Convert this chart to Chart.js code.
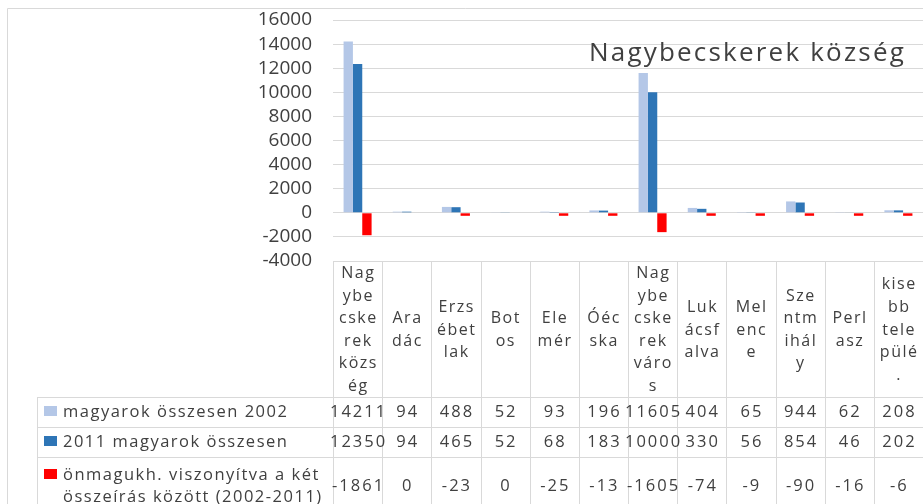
<!DOCTYPE html>
<html>
<head>
<meta charset="utf-8">
<script src="https://cdn.jsdelivr.net/npm/chart.js@4/dist/chart.umd.min.js"></script>
<style>
html,body{margin:0;padding:0;background:#fff;}
canvas{display:block;}
</style>
</head>
<body>
<canvas id="c" width="923" height="504"></canvas>
<script>
// ---- data ----
const categories = [
  ["Nag","ybe","cske","rek","közs","ég"],
  ["Ara","dác"],
  ["Erzs","ébet","lak"],
  ["Bot","os"],
  ["Ele","mér"],
  ["Óéc","ska"],
  ["Nag","ybe","cske","rek","váro","s"],
  ["Luk","ácsf","alva"],
  ["Mel","enc","e"],
  ["Sze","ntm","ihál","y"],
  ["Perl","asz"],
  ["kise","bb","tele","pülé","."]
];
const series2002 = [14211, 94, 488, 52, 93, 196, 11605, 404, 65, 944, 62, 208];
const series2011 = [12350, 94, 465, 52, 68, 183, 10000, 330, 56, 854, 46, 202];
const seriesDiff = [-1861, 0, -23, 0, -25, -13, -1605, -74, -9, -90, -16, -6];
const seriesNames = [
  ["magyarok összesen 2002"],
  ["2011 magyarok összesen"],
  ["önmagukh. viszonyítva a két", "összeírás között (2002-2011)"]
];
const chartTitle = "Nagybecskerek község";
const yMin = -4000, yMax = 16000, yStep = 2000;

const colors = ["#B4C7E7", "#2E75B6", "#FF0000"];
const textColor = "#404040";
const lineColor = "#D9D9D9";
const FONT = "'Open Sans', sans-serif";

const tablePlugin = {
  id: 'dataTable',
  afterDraw(chart) {
    const ctx = chart.ctx;
    const a = chart.chartArea;
    const n = categories.length;
    const cw = (a.right - a.left) / n;
    const headTop = a.bottom, headBot = 397;
    const rowTops = [397, 427, 457];
    const tableBot = 504;
    const legendLeft = 37;
    ctx.save();
    // outer chart border
    ctx.strokeStyle = lineColor;
    ctx.lineWidth = 1;
    ctx.beginPath();
    ctx.moveTo(7.5, 504); ctx.lineTo(7.5, 8.5); ctx.lineTo(923, 8.5);
    ctx.stroke();
    // table lines
    ctx.beginPath();
    ctx.moveTo(a.left, Math.round(headTop) + 0.5); ctx.lineTo(a.right, Math.round(headTop) + 0.5);
    for (const y of rowTops) { ctx.moveTo(legendLeft, y + 0.5); ctx.lineTo(a.right, y + 0.5); }
    for (let i = 0; i <= n; i++) {
      const x = Math.round(a.left + i * cw) + 0.5;
      ctx.moveTo(x, headTop); ctx.lineTo(x, tableBot);
    }
    ctx.moveTo(legendLeft + 0.5, rowTops[0]); ctx.lineTo(legendLeft + 0.5, tableBot);
    ctx.stroke();

    // header labels
    ctx.fillStyle = textColor;
    ctx.textAlign = 'center';
    ctx.textBaseline = 'middle';
    ctx.font = "16px " + FONT;
    ctx.letterSpacing = "1.5px";
    const lh = 22.6;
    const hc = (headTop + headBot) / 2 + 1;
    categories.forEach((lines, i) => {
      const cx = a.left + (i + 0.5) * cw + 0.75;
      const y0 = hc - (lines.length - 1) * lh / 2;
      lines.forEach((t, j) => ctx.fillText(t, cx, y0 + j * lh));
    });

    // data rows
    const data = [series2002, series2011, seriesDiff];
    const rowCenters = [412, 442, 486];
    ctx.font = "16.5px " + FONT;
    ctx.letterSpacing = "2px";
    data.forEach((arr, r) => {
      arr.forEach((v, i) => {
        const cx = a.left + (i + 0.5) * cw + 1;
        ctx.fillText(String(v), cx, rowCenters[r]);
      });
    });

    // legend cells
    ctx.textAlign = 'left';
    ctx.font = "16.5px " + FONT;
    ctx.letterSpacing = "1.5px";
    const legendLines = [[412], [442], [475, 497]];
    seriesNames.forEach((lines, r) => {
      ctx.fillStyle = colors[r];
      ctx.fillRect(44, legendLines[r][0] - 6, 13, 10);
      ctx.fillStyle = textColor;
      lines.forEach((t, j) => ctx.fillText(t, 63, legendLines[r][j]));
    });

    // title
    ctx.font = "26px " + FONT;
    ctx.letterSpacing = "2.2px";
    ctx.textAlign = 'left';
    ctx.textBaseline = 'alphabetic';
    ctx.fillStyle = textColor;
    ctx.fillText(chartTitle, 589, 61);
    ctx.restore();
  }
};

new Chart(document.getElementById('c'), {
  type: 'bar',
  data: {
    labels: categories,
    datasets: [
      { label: seriesNames[0].join(' '), data: series2002, backgroundColor: colors[0] },
      { label: seriesNames[1].join(' '), data: series2011, backgroundColor: colors[1] },
      { label: seriesNames[2].join(' '), data: seriesDiff.map(v => v === 0 ? null : v), backgroundColor: colors[2], minBarLength: 3 }
    ]
  },
  options: {
    responsive: false,
    devicePixelRatio: 1,
    animation: false,
    layout: { padding: { left: 0, right: 0, top: 20, bottom: 504 - 261 } },
    datasets: { bar: { categoryPercentage: 0.57, barPercentage: 1.0, borderWidth: 0 } },
    plugins: { legend: { display: false }, tooltip: { enabled: false }, title: { display: false } },
    scales: {
      x: { display: false },
      y: {
        min: yMin, max: yMax,
        afterFit(scale) { scale.width = 333; scale.paddingTop = 0; scale.paddingBottom = 0; },
        border: { display: false },
        grid: { color: lineColor, drawTicks: false },
        ticks: {
          stepSize: yStep,
          autoSkip: false,
          padding: 21,
          color: textColor,
          callback: v => String(v),
          font: { size: 19, family: "'Open Sans', sans-serif" }
        }
      }
    }
  },
  plugins: [tablePlugin]
});
</script>
</body>
</html>
